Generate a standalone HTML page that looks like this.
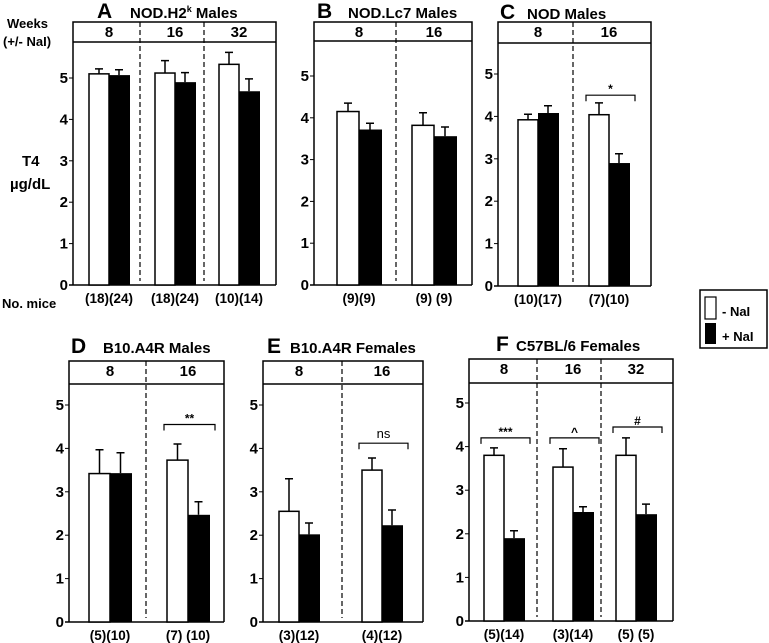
<!DOCTYPE html>
<html><head><meta charset="utf-8"><style>
html,body{margin:0;padding:0;background:#fff;}
svg{display:block;font-family:"Liberation Sans",Arial,sans-serif;font-weight:bold;}
</style></head><body>
<svg id="fig" width="769" height="643" viewBox="0 0 769 643" xmlns="http://www.w3.org/2000/svg">
<text x="7" y="28" font-size="13">Weeks</text>
<text x="3" y="46" font-size="13">(+/- NaI)</text>
<text x="22" y="166" font-size="15">T4</text>
<text x="10" y="189" font-size="15">µg/dL</text>
<text x="2" y="308" font-size="13">No. mice</text>
<g>
<rect x="700" y="290" width="67" height="58" fill="#fff" stroke="#000" stroke-width="1.5"/>
<rect x="705" y="297" width="11" height="22" fill="#fff" stroke="#000" stroke-width="1.2"/>
<text x="722" y="316" font-size="13">- NaI</text>
<rect x="705" y="323" width="11" height="21" fill="#000"/>
<text x="722" y="341" font-size="13">+ NaI</text>
</g>
</svg>
<script>
// Data per panel (T4 µg/dL)
const weeksA=["8","16","32"], negA=[5.1,5.12,5.33], posA=[5.07,4.9,4.68], negErrA=[5.22,5.42,5.62], posErrA=[5.2,5.13,4.98], nA=["(18)(24)","(18)(24)","(10)(14)"];
const weeksB=["8","16"], negB=[4.15,3.82], posB=[3.72,3.56], negErrB=[4.35,4.12], posErrB=[3.87,3.78], nB=["(9)(9)","(9) (9)"];
const weeksC=["8","16"], negC=[3.92,4.04], posC=[4.08,2.9], negErrC=[4.05,4.32], posErrC=[4.25,3.12], nC=["(10)(17)","(7)(10)"];
const weeksD=["8","16"], negD=[3.42,3.73], posD=[3.43,2.47], negErrD=[3.97,4.1], posErrD=[3.9,2.77], nD=["(5)(10)","(7) (10)"];
const weeksE=["8","16"], negE=[2.55,3.5], posE=[2.02,2.23], negErrE=[3.3,3.78], posErrE=[2.28,2.58], nE=["(3)(12)","(4)(12)"];
const weeksF=["8","16","32"], negF=[3.8,3.53,3.8], posF=[1.9,2.5,2.45], negErrF=[3.97,3.95,4.2], posErrF=[2.07,2.62,2.68], nF=["(5)(14)","(3)(14)","(5) (5)"];
const sigC=[null,"*"], sigLevC=[null,4.5];
const sigD=[null,"**"], sigLevD=[null,4.55];
const sigE=[null,"ns"], sigLevE=[null,4.12];
const sigF=["***","^","#"], sigLevF=[4.2,4.2,4.45];
const yTicks=[0,1,2,3,4,5];

const NS="http://www.w3.org/2000/svg";
const svg=document.getElementById('fig');
function mk(tag,attrs,parent,txt){const e=document.createElementNS(NS,tag);for(const k in attrs)e.setAttribute(k,attrs[k]);if(txt!==undefined)e.textContent=txt;(parent||svg).appendChild(e);return e;}

function panel(cfg){
  const g=mk('g',{});
  
  
  const y=v=>cfg.Z-v*cfg.U;
  const t=mk('text',{x:cfg.tx,y:cfg.ty,'font-size':21},g,cfg.id);
  
  
  const tt=mk('text',{x:cfg.tx+(cfg.titleGap||22),y:cfg.ty,'font-size':15},g,cfg.title);
  
  
  if(cfg.sup){mk('tspan',{dy:-6,'font-size':9},tt,cfg.sup);mk('tspan',{dy:6},tt,' Males');}
  mk('path',{d:`M${cfg.L},${cfg.Z} V${cfg.T} H${cfg.R} V${cfg.Z}`,fill:'none',stroke:'#000','stroke-width':1.5},g);
  mk('line',{x1:cfg.L,x2:cfg.R,y1:cfg.H,y2:cfg.H,stroke:'#000','stroke-width':1.5},g);
  const ax=mk('line',{x1:cfg.L-4,x2:cfg.R,y1:cfg.Z,y2:cfg.Z,stroke:'#000','stroke-width':1.5},g);
  
  
  cfg.dash.forEach(dx=>{mk('line',{x1:dx,x2:dx,y1:cfg.T,y2:cfg.Z-4,stroke:'#000','stroke-width':1.2,'stroke-dasharray':'5,3'},g);});
  yTicks.forEach(v=>{
    mk('line',{x1:cfg.L-4,x2:cfg.L,y1:y(v),y2:y(v),stroke:'#000','stroke-width':1},g);
    const l=mk('text',{x:cfg.L-5,y:y(v)+5,'font-size':15,'text-anchor':'end'},g,String(v));
    
    
  });
  const bw=cfg.bw||20;
  cfg.weeks.forEach((wk,i)=>{
    const x0=cfg.gx[i];
    const w=mk('text',{x:x0+bw,y:cfg.T+15,'font-size':15,'text-anchor':'middle'},g,wk);
    
    
    const b1=mk('rect',{x:x0,y:y(cfg.neg[i]),width:bw,height:cfg.neg[i]*cfg.U,fill:'#fff',stroke:'#000','stroke-width':1.5},g);
    
    
    const b2=mk('rect',{x:x0+bw,y:y(cfg.pos[i]),width:bw+1,height:cfg.pos[i]*cfg.U,fill:'#000'},g);
    
    
    [[x0+bw/2,cfg.neg[i],cfg.negErr[i]],[x0+bw*1.5,cfg.pos[i],cfg.posErr[i]]].forEach(([cx,v,e])=>{
      const eb=mk('path',{d:`M${cx},${y(v)} V${y(e)} M${cx-4},${y(e)} H${cx+4}`,stroke:'#000','stroke-width':1.5,fill:'none'},g);
      
      
    });
    const n=mk('text',{x:x0+bw,y:cfg.Z+18,'font-size':13.5,'text-anchor':'middle'},g,cfg.n[i]);
    
    
    if(cfg.sig&&cfg.sig[i]){
      const by=y(cfg.sigLev[i]);
      const bx1=x0-3,bx2=x0+2*bw+6;
      const br=mk('path',{d:`M${bx1},${by+6} V${by} H${bx2} V${by+6}`,stroke:'#000','stroke-width':1.2,fill:'none'},g);
      
      
      const isNs=cfg.sig[i]==='ns';
      const st=mk('text',{x:(bx1+bx2)/2,y:by-(isNs?5:2),'font-size':isNs?13:12,'font-weight':isNs?'normal':'bold','text-anchor':'middle'},g,cfg.sig[i]);
      
      
    }
  });
}
panel({id:'A',title:'NOD.H2',sup:'k',tx:97,ty:18,titleGap:33,L:73,R:276,T:22,H:42,Z:285,U:41.4,dash:[140,204],gx:[89,155,219],weeks:weeksA,neg:negA,pos:posA,negErr:negErrA,posErr:posErrA,n:nA});
panel({id:'B',title:'NOD.Lc7 Males',tx:317,ty:18,titleGap:31,L:314,R:472,T:22,H:41,Z:285,U:41.8,dash:[396],gx:[337,412],bw:22,weeks:weeksB,neg:negB,pos:posB,negErr:negErrB,posErr:posErrB,n:nB});
panel({id:'C',title:'NOD Males',tx:500,ty:19,titleGap:27,L:498,R:651,T:22,H:43,Z:286,U:42.4,dash:[573],gx:[518,589],weeks:weeksC,neg:negC,pos:posC,negErr:negErrC,posErr:posErrC,n:nC,sig:sigC,sigLev:sigLevC});
panel({id:'D',title:'B10.A4R Males',tx:71,ty:353,titleGap:32,L:69,R:224,T:361,H:384,Z:622,U:43.4,dash:[146],gx:[89,167],bw:21,weeks:weeksD,neg:negD,pos:posD,negErr:negErrD,posErr:posErrD,n:nD,sig:sigD,sigLev:sigLevD});
panel({id:'E',title:'B10.A4R Females',tx:267,ty:353,titleGap:23,L:263,R:423,T:361,H:384,Z:622,U:43.4,dash:[342],gx:[279,362],bw:20,weeks:weeksE,neg:negE,pos:posE,negErr:negErrE,posErr:posErrE,n:nE,sig:sigE,sigLev:sigLevE});
panel({id:'F',title:'C57BL/6 Females',tx:496,ty:351,titleGap:20,L:469,R:673,T:359,H:383,Z:621,U:43.6,dash:[537,601],gx:[484,553,616],weeks:weeksF,neg:negF,pos:posF,negErr:negErrF,posErr:posErrF,n:nF,sig:sigF,sigLev:sigLevF});
</script>
</body></html>
